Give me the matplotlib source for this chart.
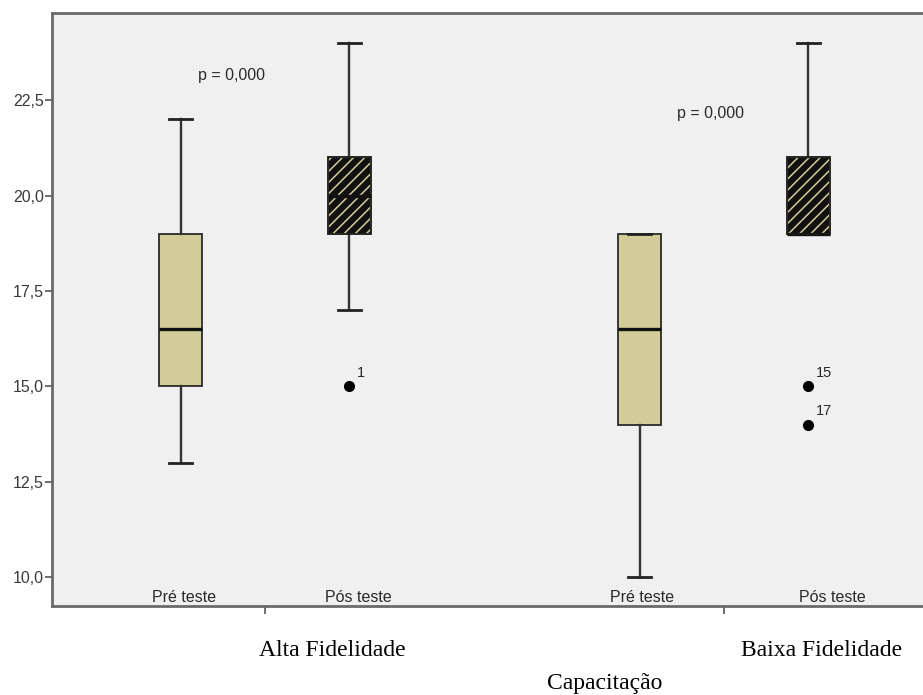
# Boxplot: pre/post test scores for high and low fidelity training (SPSS style)

import matplotlib
matplotlib.use("Agg")
import matplotlib.pyplot as plt
from matplotlib.patches import PathPatch

groups = ["Alta Fidelidade", "Baixa Fidelidade"]
moments = ["Pré teste", "Pós teste", "Pré teste", "Pós teste"]

whislo = [13.0, 17.0, 10.0, 19.0]
q1 = [15.0, 19.0, 14.0, 19.0]
medians = [16.5, 20.0, 16.5, 19.0]
q3 = [19.0, 21.0, 19.0, 21.0]
whishi = [22.0, 24.0, 19.0, 24.0]
fliers = [[], [15.0], [], [15.0, 14.0]]
flier_ids = [[], ["1"], [], ["15", "17"]]

p_values = ["p = 0,000", "p = 0,000"]
yticks = [10.0, 12.5, 15.0, 17.5, 20.0, 22.5]

plt.rcParams["hatch.linewidth"] = 1.1

fig = plt.figure(figsize=(9.23, 6.95), dpi=100)
ax = fig.add_axes([52 / 923, 1 - 606 / 695, 1 - 52 / 923, (606 - 13) / 695])
ax.set_facecolor("#f0f0f0")

positions = [0.816, 1.184, 1.816, 2.184]
stats = []
for i in range(len(moments)):
    stats.append(dict(whislo=whislo[i], q1=q1[i], med=medians[i], q3=q3[i],
                      whishi=whishi[i], fliers=fliers[i], label=moments[i]))

bp = ax.bxp(stats, positions=positions, widths=0.092, capwidths=0.052,
            patch_artist=True, manage_ticks=False,
            boxprops=dict(linewidth=1.3),
            whiskerprops=dict(color="#333333", linewidth=1.7),
            capprops=dict(color="#222222", linewidth=2.0),
            medianprops=dict(color="#111111", linewidth=2.4),
            flierprops=dict(marker="o", markerfacecolor="black",
                            markeredgecolor="black", markersize=7))

for i, box in enumerate(bp["boxes"]):
    if i % 2 == 0:
        box.set_facecolor("#d2cd98")
        box.set_edgecolor("#2a2a2a")
    else:
        box.set_facecolor("#111111")
        box.set_edgecolor("#d2cd98")
        box.set_hatch("///")
        ax.add_patch(PathPatch(box.get_path(), fill=False, edgecolor="#1a1a1a",
                               linewidth=1.3, zorder=box.get_zorder() + 0.1))

# outlier case numbers
for i, vals in enumerate(fliers):
    for v, lab in zip(vals, flier_ids[i]):
        ax.annotate(lab, (positions[i], v), xytext=(5, 10), textcoords="offset points",
                    ha="left", va="center", fontsize=10.5, color="#2a2a2a",
                    family="Liberation Sans")

ax.text(0.928, 23.15, p_values[0], ha="center", va="center", fontsize=11.5,
        color="#2a2a2a", family="Liberation Sans")
ax.text(1.97, 22.16, p_values[1], ha="center", va="center", fontsize=11.5,
        color="#2a2a2a", family="Liberation Sans")

label_x = [0.824, 1.203, 1.821, 2.237]
for x, lab in zip(label_x, moments):
    ax.text(x, 9.47, lab, ha="center", va="center", fontsize=11.5,
            color="#2a2a2a", family="Liberation Sans")

ax.set_xlim(0.536, 1.0 + (923 - 265) / 459)
ax.set_ylim(9.25, 24.78)

ax.set_yticks(yticks)
ax.set_yticklabels([f"{t:.1f}".replace(".", ",") for t in yticks],
                   fontsize=11.5, color="#3a3a3a", family="Liberation Sans")
ax.set_xticks([1, 2])
ax.set_xticklabels([])
ax.tick_params(axis="y", length=5, width=1.2, color="#555555", pad=1)
ax.tick_params(axis="x", length=6, width=1.2, color="#555555")

for s in ["left", "bottom", "top"]:
    ax.spines[s].set_color("#6a6a6a")
    ax.spines[s].set_linewidth(2.0)
ax.spines["right"].set_visible(False)

fig.text(332 / 923, 1 - 650 / 695, groups[0], ha="center", va="center",
         fontsize=17, family="Liberation Serif")
fig.text(822 / 923, 1 - 650 / 695, groups[1], ha="center", va="center",
         fontsize=17, family="Liberation Serif")
fig.text(605 / 923, 1 - 683 / 695, "Capacitação", ha="center", va="center",
         fontsize=17, family="Liberation Serif")

fig.savefig("out.png", dpi=100, facecolor="white")
